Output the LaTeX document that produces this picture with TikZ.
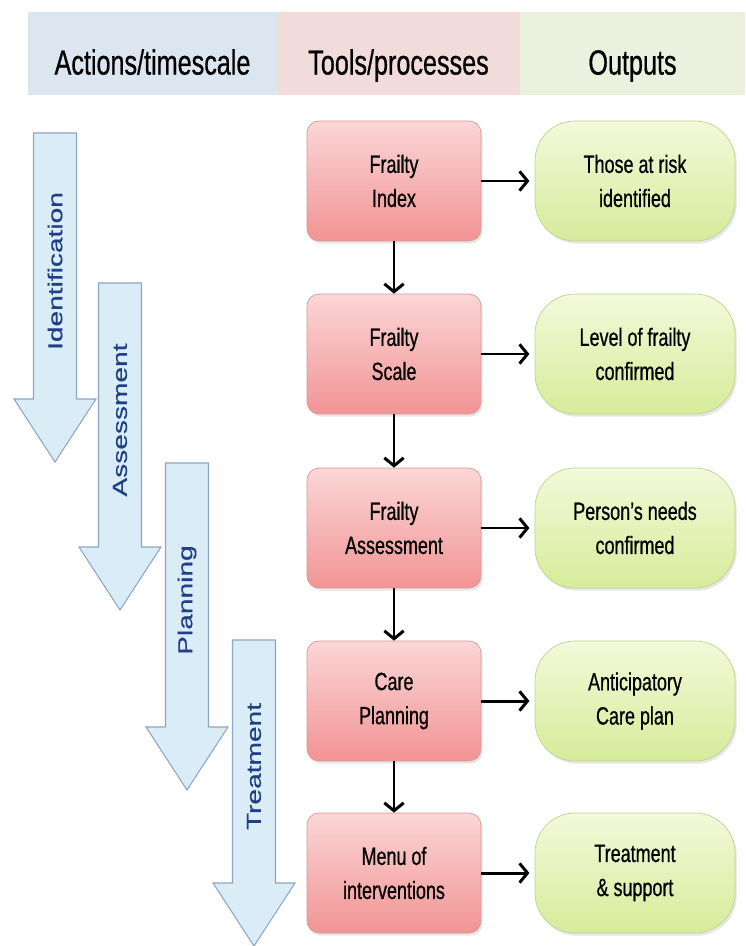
\documentclass[tikz,border=0pt]{standalone}
\usepackage{fontspec}
\setmainfont{Liberation Sans}[FakeStretch=0.72, FakeBold=0.6]
\newfontfamily\stagefont{Liberation Sans}[FakeBold=0.4]
\usetikzlibrary{shadows,arrows.meta}
\definecolor{headblue}{HTML}{DCE6F1}
\definecolor{headpink}{HTML}{F2DCDB}
\definecolor{headgreen}{HTML}{EBF1DE}
\definecolor{stagefill}{HTML}{DAEDF6}
\definecolor{stageline}{HTML}{8DA5C4}
\definecolor{stagetext}{HTML}{1F3F86}
\definecolor{tooltop}{HTML}{FBD6D6}
\definecolor{toolbottom}{HTML}{F29494}
\definecolor{toolline}{HTML}{D49A99}
\definecolor{outtop}{HTML}{F3F9DA}
\definecolor{outbottom}{HTML}{D6EC9A}
\definecolor{outline}{HTML}{BFD38F}
\tikzset{
 headcell/.style={minimum height=1.66cm, inner sep=0pt, text height=24pt, text depth=0pt,
  font=\fontsize{19.9}{24}\selectfont},
 toolbox/.style={draw=toolline, rounded corners=0.24cm, top color=tooltop, bottom color=toolbottom,
  minimum width=3.48cm, minimum height=2.4cm, align=center, font=\fontsize{14.2}{19.4}\selectfont,
  drop shadow={opacity=0.2, shadow xshift=1pt, shadow yshift=-1.5pt}},
 outbox/.style={draw=outline, rounded corners=0.8cm, top color=outtop, bottom color=outbottom,
  minimum width=4cm, minimum height=2.4cm, align=center, font=\fontsize{14.2}{19.4}\selectfont,
  drop shadow={opacity=0.2, shadow xshift=1pt, shadow yshift=-1.5pt}},
 stagebody/.style={draw=stageline, fill=stagefill, line width=0.6pt},
 stagelabel/.style={rotate=90, text=stagetext, font=\stagefont\fontsize{16}{19}\selectfont},
 link/.style={->, line width=1.7pt, >={Straight Barb[length=4.5pt,width=11pt]}}
}
% arrow of one stage: name, centre x, top y, end of shaft y, label
\newcommand{\stagearrow}[5]{%
 \draw[stagebody] ({#2-21.5},{#3}) -- ({#2+21.5},{#3}) -- ({#2+21.5},{#4}) -- ({#2+41},{#4})
  -- ({#2},{#4+63}) -- ({#2-41},{#4}) -- ({#2-21.5},{#4}) -- cycle;%
 \node ({#1}) [stagelabel] at ({#2},{(#3+#4)/2+5}) {\scalebox{1}[0.72]{#5}};%
}

\begin{document}
\begin{tikzpicture}[x=0.02cm, y=-0.02cm]
  \useasboundingbox (0,0) rectangle (745,946);
  \node (hact) [headcell, fill=headblue, minimum width=4.98cm] at (152.5,53.5) {Actions/timescale};
  \node (htool) [headcell, fill=headpink, minimum width=4.86cm] at (398.5,53.5) {Tools/processes};
  \node (hout) [headcell, fill=headgreen, minimum width=4.5cm] at (632.5,53.5) {Outputs};

  \stagearrow{sid}{55}{133}{399}{Identification}
  \stagearrow{sas}{120}{283}{547}{Assessment}
  \stagearrow{spl}{187}{463}{727}{Planning}
  \stagearrow{str}{254}{640}{883}{Treatment}

  \node (tindex) [toolbox] at (394,181) {Frailty\\Index};
  \node (tscale) [toolbox] at (394,354) {Frailty\\Scale};
  \node (tassess) [toolbox] at (394,528) {Frailty\\Assessment};
  \node (tplan) [toolbox] at (394,701) {Care\\Planning};
  \node (tmenu) [toolbox] at (394,873) {Menu of\\interventions};

  \node (orisk) [outbox] at (635,181) {Those at risk\\identified};
  \node (olevel) [outbox] at (635,354) {Level of frailty\\confirmed};
  \node (oneeds) [outbox] at (635,528) {Person's needs\\confirmed};
  \node (ocare) [outbox] at (635,701) {Anticipatory\\Care plan};
  \node (otreat) [outbox] at (635,873) {Treatment\\\& support};

  \path[link] (tindex) edge (tscale);
  \path[link] (tscale) edge (tassess);
  \path[link] (tassess) edge (tplan);
  \path[link] (tplan) edge (tmenu);
  \path[link, shorten >=3pt] (tindex) edge (orisk);
  \path[link, shorten >=3pt] (tscale) edge (olevel);
  \path[link, shorten >=3pt] (tassess) edge (oneeds);
  \path[link, shorten >=3pt] (tplan) edge (ocare);
  \path[link, shorten >=3pt] (tmenu) edge (otreat);
\end{tikzpicture}
\end{document}
